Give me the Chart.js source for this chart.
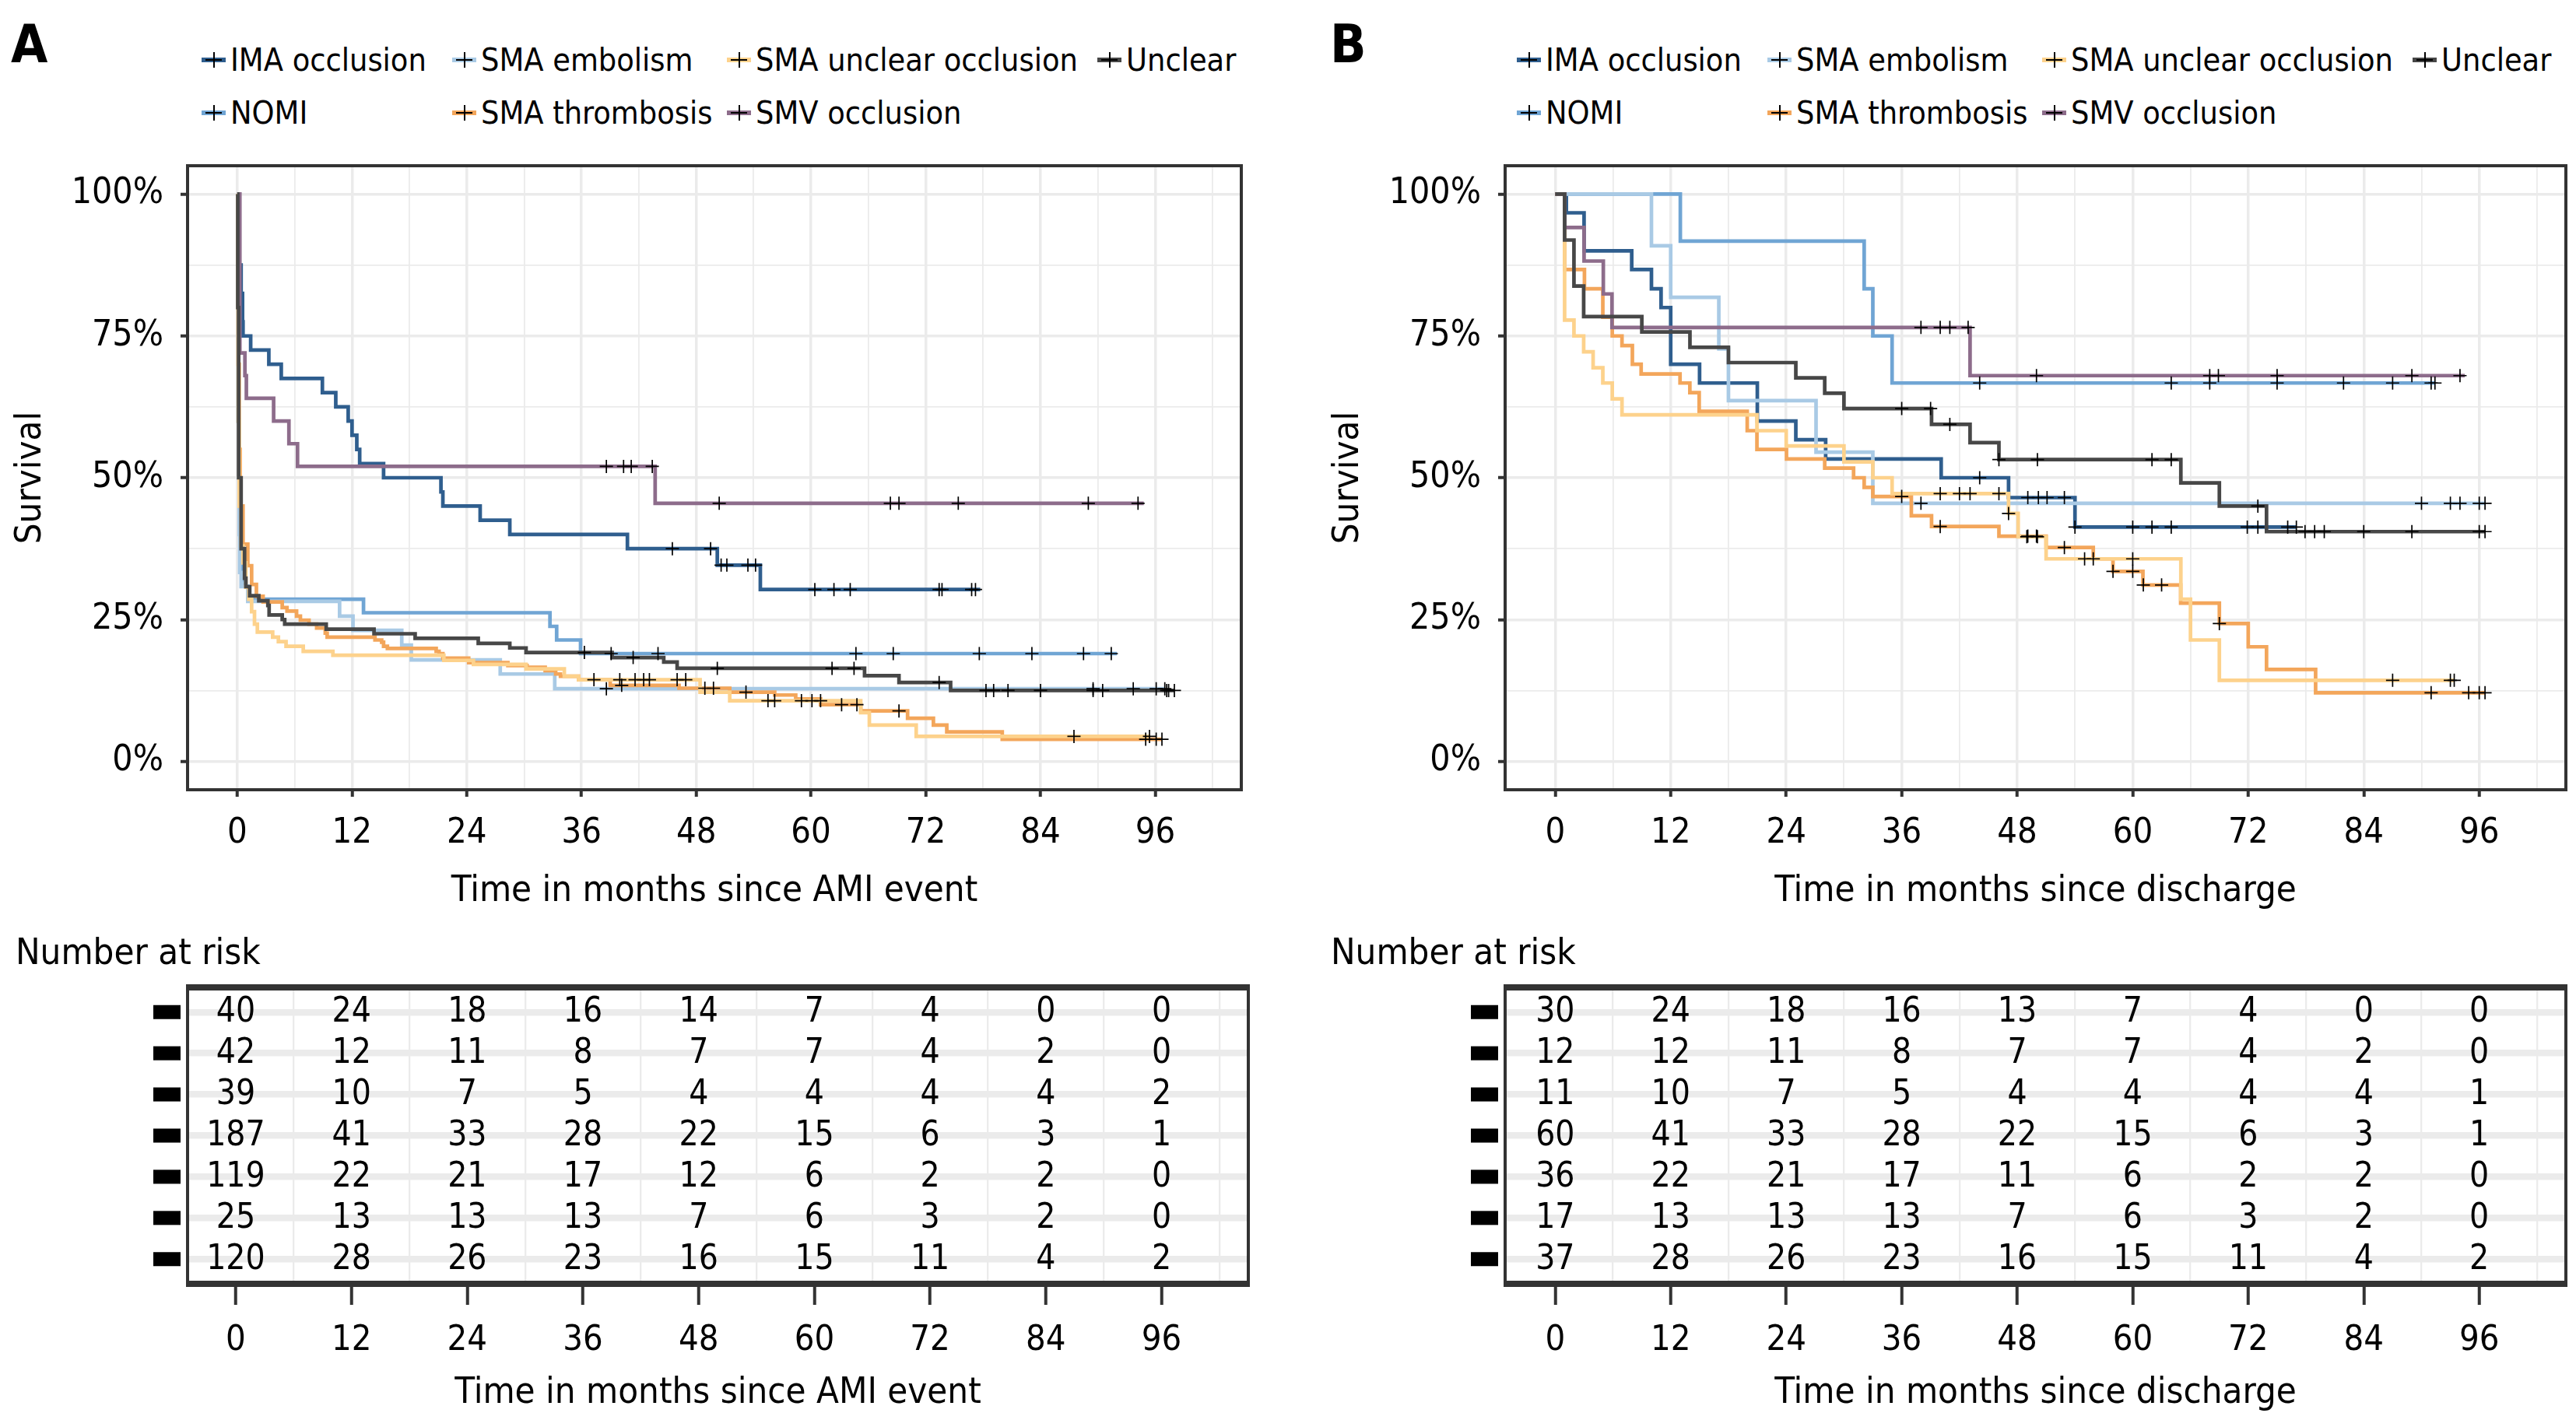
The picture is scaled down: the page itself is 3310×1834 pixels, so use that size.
<!DOCTYPE html>
<html>
<head>
<meta charset="utf-8">
<script src="https://cdn.jsdelivr.net/npm/chart.js@4.4.1/dist/chart.umd.min.js"></script>
<style>
  html, body { margin: 0; padding: 0; background: #fff; }
  #page { position: relative; width: 3310px; height: 1834px; overflow: hidden; background: #fff;
          font-family: 'DejaVu Sans Condensed', 'DejaVu Sans', sans-serif; color: #000; }
  canvas { position: absolute; }
  .txt { position: absolute; white-space: nowrap; }
  .tag { font-weight: bold; font-size: 68px; line-height: 68px; }
  .lab { font-size: 41px; line-height: 41px; }
  .risk { font-size: 47px; line-height: 47px; }
  .key { position: absolute; width: 31px; height: 6px; }
  .key .h { position: absolute; left: 5px; top: 2px; width: 21px; height: 2px; background: #000; }
  .key .v { position: absolute; left: 14.5px; top: -7px; width: 2px; height: 20px; background: #000; }
</style>
</head>
<body>
<div id="page">
  <canvas id="kmA" width="1655" height="1000" style="left:0;top:180px"></canvas>
  <canvas id="kmB" width="1617" height="1000" style="left:1693px;top:180px"></canvas>
  <canvas id="rtA" width="1655" height="594" style="left:0;top:1240px"></canvas>
  <canvas id="rtB" width="1617" height="594" style="left:1693px;top:1240px"></canvas>
</div>
<script>
// groups in legend / risk-table order
var groups = ['IMA occlusion', 'NOMI', 'SMA embolism', 'SMA thrombosis', 'SMA unclear occlusion', 'SMV occlusion', 'Unclear'];
var colors = ['#2F5E8E', '#70A5D4', '#A9CAE5', '#F3A65B', '#FDD28C', '#8D6C8B', '#474747'];

var xTicks = [0, 12, 24, 36, 48, 60, 72, 84, 96];
var yTicks = [0, 25, 50, 75, 100];
var yLabels = ['0%', '25%', '50%', '75%', '100%'];
var riskTimes = [0, 12, 24, 36, 48, 60, 72, 84, 96];

// ---- Panel A: months since AMI event, survival in % at each step, censor times ----
var aImaT = [0, 0.1, 0.2, 0.4, 0.55, 0.6, 1.4, 3.3, 4.6, 8.9, 10.3, 11.6, 12.0, 12.5, 12.8, 15.3, 21.3, 21.5, 25.4, 28.5, 40.8, 50.2, 54.7, 77.7];
var aImaS = [100, 95, 87.5, 82.5, 77.5, 75, 72.5, 70, 67.5, 65, 62.5, 60, 57.5, 55, 52.5, 50, 47.5, 45, 42.5, 40, 37.5, 34.6, 30.3, 30.3];
var aImaC = [45.5, 49.5, 50.6, 51.2, 53.4, 54.2, 60.4, 62.4, 64.1, 73.4, 73.7, 76.8, 77.2];

var aNomiT = [0, 0.05, 0.1, 0.2, 0.3, 0.5, 0.8, 1.1, 13.2, 32.7, 33.4, 35.9, 92.0];
var aNomiS = [100, 80, 60, 45, 36, 32, 30.9, 28.6, 26.2, 23.8, 21.4, 19.0, 19.0];
var aNomiC = [39.1, 44.0, 64.7, 68.6, 77.6, 83.1, 88.5, 91.4];

var aEmbT = [0, 0.05, 0.1, 0.2, 0.25, 0.4, 1.1, 10.7, 12.1, 17.2, 18.2, 27.5, 33.2, 97.0];
var aEmbS = [100, 80, 60, 40, 33.3, 30.8, 28.2, 25.6, 23.1, 20.5, 17.9, 15.4, 12.8, 12.8];
var aEmbC = [38.6, 89.5, 93.7, 96.1, 97.0];

var aThrT = [0, 0.05, 0.1, 0.2, 0.3, 0.6, 1.1, 1.5, 2.0, 2.7, 4.7, 5.2, 6.2, 6.6, 7.5, 8.3, 9.2, 9.4, 14.4, 15.1, 15.3, 15.7, 20.8, 21.1, 21.5, 24.2, 28.3, 30.3, 32.2, 33.3, 33.8, 35.7, 39.0, 46.2, 51.5, 56.2, 58.4, 61.0, 65.2, 70.1, 72.8, 74.2, 80.0, 96.7];
var aThrS = [100, 85, 70, 55, 45, 38.3, 34.5, 31.2, 29.1, 28.1, 27.1, 26.5, 25.6, 24.9, 24.2, 23.5, 22.6, 21.9, 21.4, 21.0, 20.3, 19.9, 19.4, 19.0, 18.2, 17.4, 16.9, 16.6, 16.0, 15.4, 15.0, 14.4, 13.4, 12.9, 12.2, 11.7, 11.0, 10.0, 8.9, 7.6, 6.4, 5.2, 3.9, 3.9];
var aThrC = [37.3, 40.2, 48.9, 49.8, 53.2, 63.2, 64.8, 69.2, 95.0, 96.1, 96.7];

var aUncT = [0, 0.05, 0.1, 0.2, 0.4, 0.6, 0.9, 1.2, 1.5, 1.8, 2.1, 3.7, 4.3, 5.1, 6.9, 10.0, 21.6, 24.7, 30.2, 34.2, 35.7, 48.4, 51.5, 65.2, 66.1, 71.0, 95.4];
var aUncS = [100, 80, 60, 45, 38, 35, 30.7, 28.6, 26.4, 24.2, 22.8, 21.9, 21.1, 20.3, 19.4, 18.7, 17.8, 17.1, 16.3, 15.0, 14.4, 12.2, 10.7, 8.6, 6.4, 4.4, 4.4];
var aUncC = [40.0, 41.6, 42.5, 43.1, 46.0, 46.9, 55.5, 56.2, 59.0, 60.1, 61.0, 87.5, 95.4];

var aSmvT = [0, 0.27, 0.8, 0.95, 3.8, 5.4, 6.3, 43.7, 94.8];
var aSmvS = [100, 72, 68, 64, 60, 56, 52, 45.5, 45.5];
var aSmvC = [38.6, 40.4, 41.2, 43.4, 50.4, 68.3, 69.2, 75.4, 89.0, 94.2];

var aUnkT = [0, 0.05, 0.14, 0.4, 0.76, 0.9, 1.3, 2.25, 3.2, 3.33, 4.7, 4.96, 9.3, 14.3, 18.6, 25.2, 28.5, 30.2, 39.2, 44.6, 46.0, 65.6, 69.2, 74.6, 98.0];
var aUnkS = [100, 80, 50, 37.5, 32.3, 30.8, 29.2, 28.3, 27.5, 25.8, 25.0, 24.2, 23.3, 22.5, 21.7, 20.8, 20.0, 19.2, 18.3, 17.5, 16.4, 15.1, 13.9, 12.5, 12.5];
var aUnkC = [36.3, 41.4, 50.2, 62.2, 64.5, 73.4, 78.3, 79.1, 80.6, 84.0, 89.5, 90.5, 97.2, 97.4, 98.0];

// ---- Panel B: months since discharge ----
var bImaT = [0, 1.16, 3.0, 7.95, 10.0, 11.0, 12.0, 15.0, 21.0, 25.0, 28.1, 40.1, 47.1, 54.0, 77.0];
var bImaS = [100, 96.7, 90.0, 86.7, 83.3, 80.0, 70.0, 66.7, 60.0, 56.7, 53.3, 50.0, 46.5, 41.3, 41.3];
var bImaC = [44.1, 49.1, 50.2, 51.1, 52.9, 54.0, 60.0, 62.0, 64.0, 71.9, 73.0, 76.1, 77.0];

var bNomiT = [0, 13.0, 32.1, 33.0, 35.0, 91.4];
var bNomiS = [100, 91.7, 83.3, 75.0, 66.7, 66.7];
var bNomiC = [44.1, 64.0, 68.0, 75.0, 81.9, 87.0, 91.0, 91.4];

var bEmbT = [0, 10.0, 12.0, 17.0, 18.0, 27.1, 33.0, 96.6];
var bEmbS = [100, 90.9, 81.8, 72.7, 63.6, 54.5, 45.5, 45.5];
var bEmbC = [38.0, 90.0, 93.0, 94.0, 96.0, 96.6];

var bThrT = [0, 0.98, 3.04, 4.95, 5.93, 6.94, 8.02, 8.93, 12.97, 13.99, 14.96, 19.95, 20.96, 24.03, 28.0, 31.0, 32.1, 33.0, 37.0, 39.1, 46.1, 51.0, 55.9, 57.95, 61.06, 64.98, 69.0, 72.0, 73.9, 79.0, 96.6];
var bThrS = [100, 86.7, 83.3, 78.3, 75.0, 73.3, 70.0, 68.3, 66.7, 65.0, 61.7, 58.3, 55.0, 53.3, 51.7, 50.0, 48.3, 46.7, 43.3, 41.4, 39.7, 37.7, 35.7, 33.5, 31.1, 27.9, 24.3, 20.2, 16.2, 12.1, 12.1];
var bThrC = [36.0, 40.0, 49.1, 50.0, 52.9, 57.95, 60.0, 61.1, 63.0, 69.0, 91.0, 94.9, 96.0, 96.6];

var bUncT = [0, 0.98, 1.95, 2.96, 3.94, 4.95, 5.93, 6.94, 20.96, 24.0, 30.0, 33.0, 35.0, 47.1, 48.1, 51.0, 65.0, 66.0, 69.0, 93.4];
var bUncS = [100, 77.8, 75.0, 72.2, 69.4, 66.7, 63.9, 61.1, 58.3, 55.6, 52.8, 50.0, 47.2, 43.7, 39.6, 35.7, 28.6, 21.4, 14.3, 14.3];
var bUncC = [40.0, 42.0, 43.1, 46.1, 47.1, 49.0, 50.1, 55.0, 55.9, 60.0, 87.0, 93.0, 93.4];

var bSmvT = [0, 1.0, 3.0, 5.0, 5.9, 43.1, 94.5];
var bSmvS = [100, 94.1, 88.2, 82.4, 76.5, 68.0, 68.0];
var bSmvC = [38.0, 40.0, 41.0, 42.9, 50.0, 68.0, 68.9, 75.0, 89.0, 94.0];

var bUnkT = [0, 0.98, 1.95, 2.96, 9.0, 14.0, 18.0, 25.0, 28.0, 30.0, 39.1, 43.1, 46.1, 65.0, 69.0, 73.9, 96.6];
var bUnkS = [100, 91.9, 83.8, 78.4, 75.7, 73.0, 70.3, 67.6, 64.9, 62.2, 59.4, 56.2, 53.2, 49.1, 45.0, 40.5, 40.5];
var bUnkC = [36.0, 39.0, 41.0, 46.1, 50.1, 62.0, 64.0, 73.0, 77.9, 78.9, 79.9, 84.0, 89.0, 96.0, 96.6];

// ---- Number at risk ----
var riskA_ima  = [40, 24, 18, 16, 14, 7, 4, 0, 0];
var riskA_nomi = [42, 12, 11, 8, 7, 7, 4, 2, 0];
var riskA_emb  = [39, 10, 7, 5, 4, 4, 4, 4, 2];
var riskA_thr  = [187, 41, 33, 28, 22, 15, 6, 3, 1];
var riskA_unc  = [119, 22, 21, 17, 12, 6, 2, 2, 0];
var riskA_smv  = [25, 13, 13, 13, 7, 6, 3, 2, 0];
var riskA_unk  = [120, 28, 26, 23, 16, 15, 11, 4, 2];

var riskB_ima  = [30, 24, 18, 16, 13, 7, 4, 0, 0];
var riskB_nomi = [12, 12, 11, 8, 7, 7, 4, 2, 0];
var riskB_emb  = [11, 10, 7, 5, 4, 4, 4, 4, 1];
var riskB_thr  = [60, 41, 33, 28, 22, 15, 6, 3, 1];
var riskB_unc  = [36, 22, 21, 17, 11, 6, 2, 2, 0];
var riskB_smv  = [17, 13, 13, 13, 7, 6, 3, 2, 0];
var riskB_unk  = [37, 28, 26, 23, 16, 15, 11, 4, 2];

var seriesA = [[aImaT, aImaS, aImaC], [aNomiT, aNomiS, aNomiC], [aEmbT, aEmbS, aEmbC], [aThrT, aThrS, aThrC],
               [aUncT, aUncS, aUncC], [aSmvT, aSmvS, aSmvC], [aUnkT, aUnkS, aUnkC]];
var seriesB = [[bImaT, bImaS, bImaC], [bNomiT, bNomiS, bNomiC], [bEmbT, bEmbS, bEmbC], [bThrT, bThrS, bThrC],
               [bUncT, bUncS, bUncC], [bSmvT, bSmvS, bSmvC], [bUnkT, bUnkS, bUnkC]];
var riskA = [riskA_ima, riskA_nomi, riskA_emb, riskA_thr, riskA_unc, riskA_smv, riskA_unk];
var riskB = [riskB_ima, riskB_nomi, riskB_emb, riskB_thr, riskB_unc, riskB_smv, riskB_unk];

var FONT = "'DejaVu Sans Condensed', 'DejaVu Sans', sans-serif";
Chart.defaults.font.family = FONT;
Chart.defaults.color = '#000';

// grid every 6 months / 12.5 %, labels only on the major ones
var gridX = [];
for (var g = 0; g <= 102; g += 6) gridX.push(g);
var gridY = [0, 12.5, 25, 37.5, 50, 62.5, 75, 87.5, 100];

function survAt(t, times, surv) {
  var s = surv[0];
  for (var i = 0; i < times.length; i++) { if (times[i] <= t) s = surv[i]; }
  return s;
}

var framePlugin = {
  id: 'frame',
  afterDraw: function (chart, args, opts) {
    var ctx = chart.ctx, a = chart.chartArea;
    ctx.save();
    ctx.strokeStyle = '#333';
    ctx.lineWidth = opts.side || 4;
    ctx.strokeRect(a.left, a.top, a.right - a.left, a.bottom - a.top);
    if (opts.edge) {
      ctx.lineWidth = opts.edge;
      ctx.beginPath();
      ctx.moveTo(a.left - 2, a.top); ctx.lineTo(a.right + 2, a.top);
      ctx.moveTo(a.left - 2, a.bottom); ctx.lineTo(a.right + 2, a.bottom);
      ctx.stroke();
    }
    ctx.restore();
  }
};

var riskPlugin = {
  id: 'riskText',
  afterDatasetsDraw: function (chart) {
    var ctx = chart.ctx, a = chart.chartArea;
    ctx.save();
    ctx.font = '44px ' + FONT;
    ctx.fillStyle = '#000';
    ctx.textAlign = 'center';
    ctx.textBaseline = 'middle';
    chart.data.datasets.forEach(function (ds, i) {
      var meta = chart.getDatasetMeta(i);
      meta.data.forEach(function (pt, j) { ctx.fillText(String(ds.data[j].n), pt.x, pt.y + 1); });
      var y = chart.scales.y.getPixelForValue(i + 1);
      ctx.fillRect(a.left - 44, y - 9, 35, 18);
    });
    ctx.restore();
  }
};

function noEdgePad(sc) { sc.paddingTop = 0; sc.paddingBottom = 0; sc.paddingLeft = 0; sc.paddingRight = 0; }

function xScale(xmin, xmax, title, h, o) {
  return {
    type: 'linear', min: xmin, max: xmax,
    afterBuildTicks: function (sc) { sc.ticks = gridX.map(function (v) { return {value: v}; }); },
    afterFit: function (sc) { sc.height = h; noEdgePad(sc); },
    ticks: { autoSkip: false, maxRotation: 0, padding: o.pad, color: '#000', font: {size: 45},
      callback: function (v) { return xTicks.indexOf(v) >= 0 ? String(v) : ''; } },
    grid: {
      color: function (c) { return (o.hideMajor && c.tick && c.tick.value % 12 === 0) ? 'rgba(0,0,0,0)' : '#EBEBEB'; },
      lineWidth: function (c) { return (c.tick && c.tick.value % 12 === 0) ? 3.5 : o.minorW; },
      tickLength: o.tl, tickWidth: 4,
      tickColor: function (c) { return (c.tick && xTicks.indexOf(c.tick.value) >= 0) ? '#333' : 'rgba(0,0,0,0)'; }
    },
    border: { display: false },
    title: { display: true, text: title, color: '#000', font: {size: 47}, padding: {top: 0, bottom: o.tpad} }
  };
}

function makeKM(id, series, xTitle, padRight) {
  var lines = series.map(function (sr, i) {
    return {
      type: 'line', data: sr[0].map(function (x, j) { return {x: x, y: sr[1][j]}; }),
      borderColor: colors[i], borderWidth: 4.7, stepped: 'before', pointRadius: 0, fill: false, order: 7 - i
    };
  });
  var marks = series.map(function (sr) {
    return {
      type: 'scatter', data: sr[2].map(function (x) { return {x: x, y: survAt(x, sr[0], sr[1])}; }),
      pointStyle: 'cross', pointRadius: 8.5, borderColor: '#000', pointBorderColor: '#000',
      pointBorderWidth: 1.7, borderWidth: 1.7, showLine: false, order: 0
    };
  });
  return new Chart(document.getElementById(id), {
    type: 'line',
    data: { datasets: lines.concat(marks) },
    options: {
      responsive: false, animation: false, devicePixelRatio: 1, events: [],
      layout: { padding: {left: 0, top: 33, right: padRight, bottom: 0} },
      plugins: { legend: {display: false}, tooltip: {enabled: false}, frame: {side: 4} },
      scales: {
        x: xScale(-5.2, 105, xTitle, 165, {pad: 20, tl: 9, tpad: 6, minorW: 1.8}),
        y: {
          min: -5, max: 105,
          afterBuildTicks: function (sc) { sc.ticks = gridY.map(function (v) { return {value: v}; }); },
          afterFit: function (sc) { sc.width = 241; noEdgePad(sc); },
          ticks: { padding: 22, color: '#000', font: {size: 46},
            callback: function (v) { var k = yTicks.indexOf(v); return k >= 0 ? yLabels[k] : ''; } },
          grid: {
            color: '#EBEBEB',
            lineWidth: function (c) { return (c.tick && c.tick.value % 25 === 0) ? 3.5 : 1.8; },
            tickLength: 9, tickWidth: 4,
            tickColor: function (c) { return (c.tick && c.tick.value % 25 === 0) ? '#333' : 'rgba(0,0,0,0)'; }
          },
          border: { display: false },
          title: { display: true, text: 'Survival', color: '#000', font: {size: 47}, padding: {top: 12, bottom: 0} }
        }
      }
    },
    plugins: [framePlugin]
  });
}

function makeRisk(id, risk, xTitle, xmin, padRight) {
  var sets = risk.map(function (row, i) {
    return { data: riskTimes.map(function (t, j) { return {x: t, y: i + 1, n: row[j]}; }), pointRadius: 0, showLine: false };
  });
  return new Chart(document.getElementById(id), {
    type: 'scatter',
    data: { datasets: sets },
    options: {
      responsive: false, animation: false, devicePixelRatio: 1, events: [],
      layout: { padding: {left: 0, top: 29, right: padRight, bottom: 0} },
      plugins: { legend: {display: false}, tooltip: {enabled: false}, frame: {side: 4, edge: 8} },
      scales: {
        x: xScale(xmin, 105, xTitle, 184, {pad: 19, tl: 27, tpad: 15, hideMajor: true, minorW: 2.3}),
        y: {
          type: 'linear', reverse: true, min: 0.4, max: 7.6,
          afterBuildTicks: function (sc) { sc.ticks = [1, 2, 3, 4, 5, 6, 7].map(function (v) { return {value: v}; }); },
          afterFit: function (sc) { sc.width = 241; noEdgePad(sc); },
          ticks: { display: false },
          grid: { color: '#EBEBEB', lineWidth: 8.5, drawTicks: false },
          border: { display: false }
        }
      }
    },
    plugins: [framePlugin, riskPlugin]
  });
}

makeKM('kmA', seriesA, 'Time in months since AMI event', 60);
makeKM('kmB', seriesB, 'Time in months since discharge', 13);
makeRisk('rtA', riskA, 'Time in months since AMI event', -5, 51);
makeRisk('rtB', riskB, 'Time in months since discharge', -5.2, 13);

// ---- HTML text: panel tags, legends, risk-table headings ----
var page = document.getElementById('page');
function addText(cls, text, left, top) {
  var d = document.createElement('div');
  d.className = 'txt ' + cls;
  d.textContent = text;
  d.style.left = left + 'px';
  d.style.top = top + 'px';
  page.appendChild(d);
}
var legendKeyX = [259, 581, 934, 1410];
var legendRowY = [77, 145];
[0, 1690].forEach(function (dx, p) {
  addText('tag', p === 0 ? 'A' : 'B', 14 + dx + (p ? 5 : 0), 23);
  addText('risk', 'Number at risk', 20 + dx, 1199);
  groups.forEach(function (name, i) {
    var kx = legendKeyX[Math.floor(i / 2)] + dx, ky = legendRowY[i % 2];
    var k = document.createElement('div');
    k.className = 'key';
    k.style.left = kx + 'px';
    k.style.top = (ky - 3) + 'px';
    k.style.background = colors[i];
    k.innerHTML = '<div class="h"></div><div class="v"></div>';
    page.appendChild(k);
    addText('lab', name, kx + 37, ky - 20);
  });
});
</script>
</body>
</html>
